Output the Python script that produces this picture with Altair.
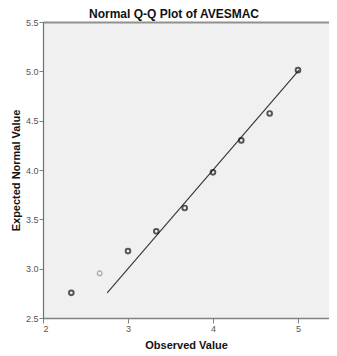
import altair as alt
import pandas as pd

observed = [2.333, 2.667, 3.0, 3.333, 3.667, 4.0, 4.333, 4.667, 5.0]
expected = [2.755, 2.953, 3.178, 3.379, 3.615, 3.976, 4.300, 4.573, 5.012]
cases = [2, 1, 2, 2, 2, 2, 2, 2, 2]
line_ends = [2.755, 5.012]

pts = pd.DataFrame({"Observed": observed, "Expected": expected, "n": cases})
ref = pd.DataFrame({"Observed": line_ends, "Expected": line_ends})

xscale = alt.Scale(domain=[2, 5.365], nice=False, zero=False)
yscale = alt.Scale(domain=[2.5, 5.5], nice=False, zero=False)

axis_common = dict(
    grid=False,
    labelFont="Liberation Sans",
    labelFontSize=9,
    labelColor="#555555",
    titleFont="Liberation Sans",
    titleFontSize=11,
    titleFontWeight="bold",
    titleColor="#111111",
    tickColor="#808080",
)

points = alt.Chart(pts).mark_point(shape="circle", filled=False, size=22).encode(
    x=alt.X("Observed:Q", scale=xscale,
            axis=alt.Axis(title="Observed Value", values=[2, 3, 4, 5], format="d",
                          tickSize=5, labelPadding=1, titlePadding=6,
                          domainColor="#808080", domainWidth=1.6, **axis_common)),
    y=alt.Y("Expected:Q", scale=yscale,
            axis=alt.Axis(title="Expected Normal Value", values=[2.5, 3, 3.5, 4, 4.5, 5, 5.5],
                          format=".1f", tickSize=4, labelPadding=1, titlePadding=4,
                          domainColor="#707070", domainWidth=1.2, **axis_common)),
    stroke=alt.condition("datum.n == 1", alt.value("#8a8a8a"), alt.value("#111111")),
    strokeWidth=alt.condition("datum.n == 1", alt.value(1.2), alt.value(1.9)),
)

line = alt.Chart(ref).mark_line(color="#333333", strokeWidth=1.1).encode(
    x=alt.X("Observed:Q", scale=xscale,
            axis=alt.Axis(orient="top", title=None, labels=False, ticks=False, grid=False,
                          domainColor="#909090", domainWidth=1.8)),
    y=alt.Y("Expected:Q", scale=yscale),
)

chart = (
    alt.layer(line, points)
    .resolve_axis(x="independent")
    .properties(
        width=286,
        height=296,
        autosize=alt.AutoSizeParams(type="none"),
        padding={"left": 35, "top": 14, "right": 0, "bottom": 32},
        title=alt.TitleParams(
            "Normal Q-Q Plot of AVESMAC",
            font="Liberation Sans",
            fontSize=12,
            fontWeight="bold",
            color="#111111",
            anchor="middle",
            baseline="alphabetic",
            offset=0,
            dx=-12,
            dy=12,
        ),
    )
    .configure_view(fill="#f0f0f0", stroke=None)
)

chart.save("out.html", embed_options={"renderer": "svg", "actions": False})
